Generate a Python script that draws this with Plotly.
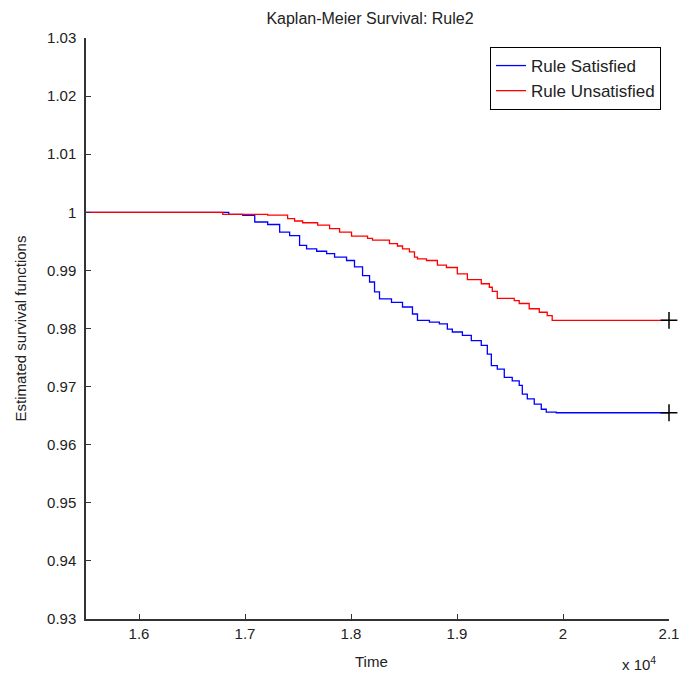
import plotly.graph_objects as go

# Rule Satisfied (blue) step times and survival values
sat_time = [15500, 16847, 16979, 17092, 17214, 17327, 17421, 17515, 17581, 17676,
            17770, 17845, 17958, 18033, 18109, 18175, 18222, 18269, 18382, 18486,
            18580, 18627, 18740, 18834, 18909, 18956, 19051, 19135, 19229, 19286,
            19324, 19380, 19446, 19521, 19587, 19616, 19663, 19729, 19795, 19842,
            19936, 21000]
sat_surv = [1.0, 0.99966, 0.99948, 0.99833, 0.9979, 0.9966, 0.9960, 0.9943, 0.9937, 0.9933,
            0.9929, 0.9923, 0.9917, 0.9906, 0.9891, 0.9880, 0.9863, 0.9851, 0.9845, 0.9837,
            0.9825, 0.9814, 0.9811, 0.9808, 0.9799, 0.9794, 0.9788, 0.9779, 0.9771, 0.9756,
            0.9736, 0.9730, 0.9716, 0.9710, 0.9702, 0.9687, 0.9679, 0.9670, 0.9661, 0.9656,
            0.9655, 0.9655]

# Rule Unsatisfied (red)
uns_time = [15500, 16790, 17214, 17402, 17468, 17544, 17685, 17798, 17892, 18005,
            18156, 18203, 18363, 18438, 18486, 18551, 18599, 18627, 18712, 18815,
            18900, 19003, 19098, 19229, 19305, 19333, 19380, 19540, 19587, 19681,
            19776, 19851, 19898, 21000]
uns_surv = [1.0, 0.99966, 0.9995, 0.9989, 0.9985, 0.9982, 0.9978, 0.9972, 0.9966, 0.9959,
            0.9955, 0.9952, 0.9946, 0.9942, 0.9937, 0.9932, 0.9923, 0.9920, 0.9917, 0.9909,
            0.9905, 0.9894, 0.9884, 0.9877, 0.9871, 0.9864, 0.9852, 0.9848, 0.9843, 0.9834,
            0.9828, 0.9822, 0.9814, 0.9814]

y_ticks = [0.93, 0.94, 0.95, 0.96, 0.97, 0.98, 0.99, 1.0, 1.01, 1.02, 1.03]
y_labels = ["0.93", "0.94", "0.95", "0.96", "0.97", "0.98", "0.99", "1", "1.01", "1.02", "1.03"]
x_ticks = [16000, 17000, 18000, 19000, 20000, 21000]
x_labels = ["1.6", "1.7", "1.8", "1.9", "2", "2.1"]

FONT = "Liberation Sans, Arial, sans-serif"
TXT = "#222222"

fig = go.Figure()
fig.add_trace(go.Scatter(x=sat_time, y=sat_surv, mode="lines", line_shape="hv",
                         line=dict(color="#0000ff", width=1.3), name="Rule Satisfied",
                         legendgroup="a"))
fig.add_trace(go.Scatter(x=uns_time, y=uns_surv, mode="lines", line_shape="hv",
                         line=dict(color="#ff0000", width=1.3), name="Rule Unsatisfied",
                         legendgroup="b"))
fig.add_trace(go.Scatter(x=[sat_time[-1], uns_time[-1]], y=[sat_surv[-1], uns_surv[-1]],
                         mode="markers", showlegend=False, cliponaxis=False,
                         marker=dict(symbol="cross-thin", size=12,
                                     line=dict(color="black", width=1.5))))

axis_common = dict(showgrid=False, zeroline=False, showline=True, linecolor="#333333",
                   linewidth=1.5, ticks="inside", ticklen=5, tickcolor="#333333", mirror=False,
                   automargin=False, ticklabeloverflow="allow",
                   tickfont=dict(size=15, color=TXT))

fig.update_layout(
    width=679, height=677,
    margin=dict(l=86, r=10, t=38, b=58, autoexpand=False),
    paper_bgcolor="white", plot_bgcolor="white",
    font=dict(family=FONT, size=15, color=TXT),
    title=dict(text="Kaplan-Meier Survival: Rule2", x=370 / 679, xanchor="center",
               y=1 - 18 / 677, yanchor="middle", font=dict(size=16, color=TXT)),
    showlegend=True,
    legend=dict(x=(661 - 86) / 583, xanchor="right", y=(619 - 47) / 581, yanchor="top",
                bordercolor="black", borderwidth=1, bgcolor="white",
                font=dict(size=17), tracegroupgap=0, entrywidth=160, entrywidthmode="pixels"),
    xaxis=dict(range=[15500, 21000], tickvals=x_ticks, ticktext=x_labels, **axis_common),
    yaxis=dict(range=[0.93, 1.03], tickvals=y_ticks, ticktext=y_labels,
               ticklabelstandoff=5, **axis_common),
    annotations=[
        dict(text="Time", xref="paper", yref="paper", x=(371 - 86) / 583, y=-42 / 581,
             xanchor="center", yanchor="middle", showarrow=False, font=dict(size=15)),
        dict(text="Estimated survival functions", xref="paper", yref="paper",
             x=-66 / 583, y=0.5, xanchor="center", yanchor="middle", textangle=-90,
             showarrow=False, font=dict(size=15)),
        dict(text="x 10<sup>4</sup>", xref="paper", yref="paper", x=(639 - 86) / 583,
             y=-44 / 581, xanchor="center", yanchor="middle", showarrow=False,
             font=dict(size=15)),
    ],
)

fig.write_html("out.html", config={"displayModeBar": False},
               post_script="document.body.style.margin='0';document.body.style.overflow='hidden';")
